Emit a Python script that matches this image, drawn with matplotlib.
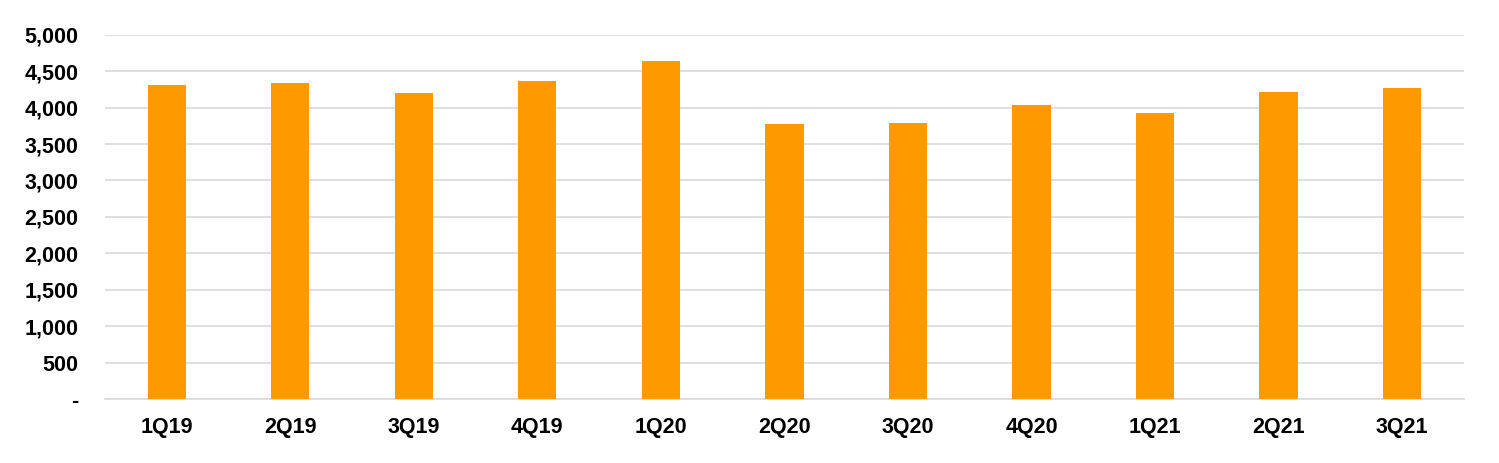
import matplotlib.pyplot as plt
from matplotlib.ticker import FuncFormatter

# quarterly values
quarters = ["1Q19", "2Q19", "3Q19", "4Q19", "1Q20", "2Q20", "3Q20", "4Q20", "1Q21", "2Q21", "3Q21"]
values = [4305, 4335, 4200, 4370, 4645, 3775, 3795, 4030, 3925, 4210, 4265]
yticks = [0, 500, 1000, 1500, 2000, 2500, 3000, 3500, 4000, 4500, 5000]

plt.rcParams['font.family'] = ['Liberation Sans', 'DejaVu Sans']

fig = plt.figure(figsize=(14.99, 4.63), dpi=100)
ax = fig.add_axes([0.070, 0.138, 0.9066, 0.787])

ax.bar(quarters, values, width=0.31, color="#FF9900", zorder=3)

ax.set_ylim(0, 5000)
ax.set_xlim(-0.5, len(quarters) - 0.5)
ax.set_yticks(yticks)
ax.yaxis.set_major_formatter(FuncFormatter(lambda v, p: "-" if v == 0 else f"{int(v):,}"))
ax.grid(axis="y", color="#d9d9d9", linewidth=1.2, zorder=0)

for s in ["top", "right", "left"]:
    ax.spines[s].set_visible(False)
ax.spines["bottom"].set_color("#d9d9d9")
ax.spines["bottom"].set_linewidth(1.2)

ax.tick_params(axis="both", length=0, labelsize=15.5)
ax.tick_params(axis="y", pad=19)
ax.tick_params(axis="x", pad=13)
for lab in ax.get_xticklabels() + ax.get_yticklabels():
    lab.set_fontweight("bold")

plt.savefig("out.png", dpi=100)
